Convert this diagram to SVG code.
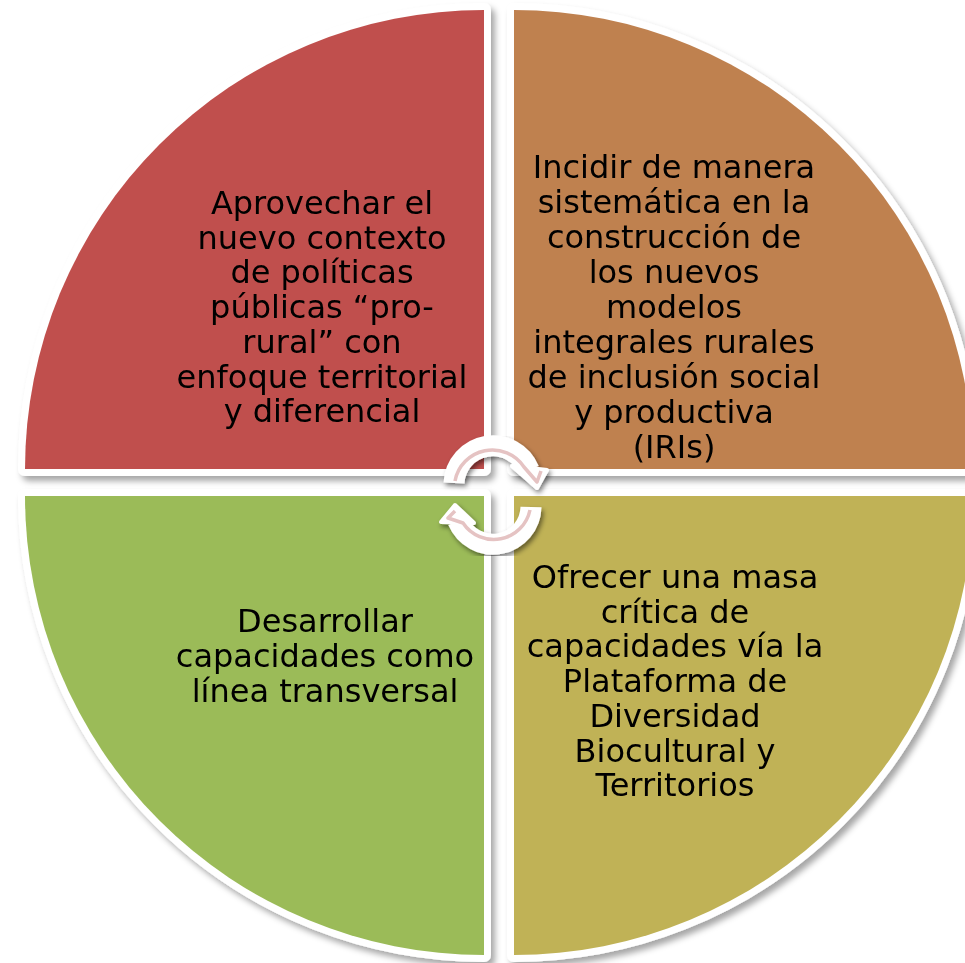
<svg xmlns="http://www.w3.org/2000/svg" width="965" height="963" viewBox="0 0 965 963">
<defs>
<filter id="sh" x="-10%" y="-10%" width="120%" height="120%">
<feGaussianBlur in="SourceAlpha" stdDeviation="3"/>
<feOffset dx="4" dy="5" result="b"/>
<feFlood flood-color="#000" flood-opacity="0.35"/>
<feComposite in2="b" operator="in"/>
<feMerge><feMergeNode/><feMergeNode in="SourceGraphic"/></feMerge>
</filter>
<filter id="ash" x="-30%" y="-30%" width="160%" height="160%">
<feGaussianBlur in="SourceAlpha" stdDeviation="2.5"/>
<feOffset dx="2" dy="3" result="b"/>
<feFlood flood-color="#000" flood-opacity="0.5"/>
<feComposite in2="b" operator="in"/>
<feMerge><feMergeNode/><feMergeNode in="SourceGraphic"/></feMerge>
</filter>
</defs>
<style>
.pie{stroke:#fff;stroke-width:14;stroke-linejoin:round;paint-order:stroke}
.t{font-family:"DejaVu Sans","Verdana",sans-serif;font-size:32px;fill:#000;text-anchor:middle}
.band{fill:none;stroke:#fff;stroke-width:21}
.head{fill:#fff;stroke:#fff;stroke-width:4;stroke-linejoin:round}
.pk{fill:none;stroke:#E5C3C3;stroke-width:3.5;stroke-linejoin:round}
</style>
<rect width="965" height="963" fill="#fff"/>
<g id="node-red" filter="url(#sh)">
<path class="pie" fill="#C0504D" d="M484,469 L25,469 A459,459 0 0 1 484,10 Z"/>
<text class="t"><tspan x="322" y="214">Aprovechar el</tspan><tspan x="322" y="248.7">nuevo contexto</tspan><tspan x="322" y="283.4">de políticas</tspan><tspan x="322" y="318.1">públicas “pro-</tspan><tspan x="322" y="352.8">rural” con</tspan><tspan x="322" y="387.5">enfoque territorial</tspan><tspan x="322" y="422.2">y diferencial</tspan></text>
</g>
<g id="node-orange" filter="url(#sh)">
<path class="pie" fill="#BF8150" d="M514,469 L514,10 A459,459 0 0 1 973,469 Z"/>
<text class="t"><tspan x="674" y="178">Incidir de manera</tspan><tspan x="674" y="213">sistemática en la</tspan><tspan x="674" y="248">construcción de</tspan><tspan x="674" y="283">los nuevos</tspan><tspan x="674" y="318">modelos</tspan><tspan x="674" y="353">integrales rurales</tspan><tspan x="674" y="388">de inclusión social</tspan><tspan x="674" y="423">y productiva</tspan><tspan x="674" y="458">(IRIs)</tspan></text>
</g>
<g id="node-green" filter="url(#sh)">
<path class="pie" fill="#9BBB59" d="M484,496 L484,955 A459,459 0 0 1 25,496 Z"/>
<text class="t"><tspan x="325" y="632">Desarrollar</tspan><tspan x="325" y="667">capacidades como</tspan><tspan x="325" y="702">línea transversal</tspan></text>
</g>
<g id="node-olive" filter="url(#sh)">
<path class="pie" fill="#C0B257" d="M514,496 L973,496 A459,459 0 0 1 514,955 Z"/>
<text class="t"><tspan x="675" y="588">Ofrecer una masa</tspan><tspan x="675" y="622.7">crítica de</tspan><tspan x="675" y="657.4">capacidades vía la</tspan><tspan x="675" y="692.1">Plataforma de</tspan><tspan x="675" y="726.8">Diversidad</tspan><tspan x="675" y="761.5">Biocultural y</tspan><tspan x="675" y="796.2">Territorios</tspan></text>
</g>
<g id="connectors">
<g id="arrow-top" filter="url(#ash)">
<path class="band" d="M454,483 A39,39 0 0 1 529,470"/>
<polygon class="head" points="512,466 547,470 537,488"/>
<path class="pk" d="M455,481 A38,38 0 0 1 524,467 L537,482 L541,471"/>
</g>
<g id="arrow-bottom" filter="url(#ash)">
<path class="band" d="M531,507 A38,38 0 0 1 458,521"/>
<polygon class="head" points="441,522 474,523 455,505"/>
<path class="pk" d="M530,510 A37,37 0 0 1 463,523 L448,518 L455,511"/>
</g>
</g>
</svg>
